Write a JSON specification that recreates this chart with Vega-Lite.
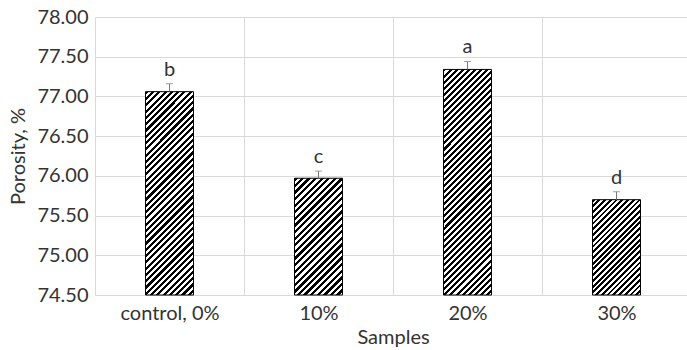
{
"$schema": "https://vega.github.io/schema/vega-lite/v6.json",
"width": 596, "height": 278,
"autosize": "none",
"padding": {"left": 95, "top": 17, "right": 0, "bottom": 55},
"background": "white",
"config": {"view": {"stroke": null}, "font": "Lato",
  "axis": {"labelFont": "Lato", "titleFont": "Lato", "labelColor": "#333", "titleColor": "#333", "labelFontSize": 20, "titleFontSize": 20, "titleFontWeight": "normal", "gridColor": "#d9d9d9", "gridWidth": 1, "domain": false, "ticks": false},
  "axisY": {"title": "Porosity, %", "values": [74.5, 75, 75.5, 76, 76.5, 77, 77.5, 78], "format": ".2f", "grid": true, "labelPadding": 7, "titlePadding": 8}},
"data": {"values": [
  {"Sample": "control, 0%", "Porosity": 77.06, "Upper": 77.16, "Letter": "b"},
  {"Sample": "10%", "Porosity": 75.97, "Upper": 76.06, "Letter": "c"},
  {"Sample": "20%", "Porosity": 77.34, "Upper": 77.44, "Letter": "a"},
  {"Sample": "30%", "Porosity": 75.70, "Upper": 75.80, "Letter": "d"}
]},
"encoding": {"x": {"field": "Sample", "type": "nominal", "sort": null, "scale": {"paddingInner": 0, "paddingOuter": 0},
  "axis": {"title": "Samples", "tickBand": "extent", "grid": true, "labelAngle": 0, "labelPadding": 8, "titlePadding": 4}}},
"layer": [
{"mark": {"type": "bar", "width": {"band": 0.322}, "stroke": "#000", "strokeWidth": 1},
 "encoding": {
  "y": {"field": "Porosity", "type": "quantitative", "scale": {"domain": [74.5, 78], "nice": false, "zero": false}, "axis": {"title": "Porosity, %"}},
  "y2": {"datum": 74.5},
  "fill": {"condition": [
   {"test": "datum.Sample === 'control, 0%'", "value": {"gradient": "linear", "x1": 0, "y1": 0, "x2": 0.2764, "y2": 1.1708, "stops": [
{"offset":0,"color":"#000"},
{"offset":0.0125,"color":"#000"},{"offset":0.0125,"color":"#fff"},{"offset":0.025,"color":"#fff"},{"offset":0.025,"color":"#000"},{"offset":0.0375,"color":"#000"},{"offset":0.0375,"color":"#fff"},{"offset":0.05,"color":"#fff"},{"offset":0.05,"color":"#000"},
{"offset":0.0625,"color":"#000"},{"offset":0.0625,"color":"#fff"},{"offset":0.075,"color":"#fff"},{"offset":0.075,"color":"#000"},{"offset":0.0875,"color":"#000"},{"offset":0.0875,"color":"#fff"},{"offset":0.1,"color":"#fff"},{"offset":0.1,"color":"#000"},
{"offset":0.1125,"color":"#000"},{"offset":0.1125,"color":"#fff"},{"offset":0.125,"color":"#fff"},{"offset":0.125,"color":"#000"},{"offset":0.1375,"color":"#000"},{"offset":0.1375,"color":"#fff"},{"offset":0.15,"color":"#fff"},{"offset":0.15,"color":"#000"},
{"offset":0.1625,"color":"#000"},{"offset":0.1625,"color":"#fff"},{"offset":0.175,"color":"#fff"},{"offset":0.175,"color":"#000"},{"offset":0.1875,"color":"#000"},{"offset":0.1875,"color":"#fff"},{"offset":0.2,"color":"#fff"},{"offset":0.2,"color":"#000"},
{"offset":0.2125,"color":"#000"},{"offset":0.2125,"color":"#fff"},{"offset":0.225,"color":"#fff"},{"offset":0.225,"color":"#000"},{"offset":0.2375,"color":"#000"},{"offset":0.2375,"color":"#fff"},{"offset":0.25,"color":"#fff"},{"offset":0.25,"color":"#000"},
{"offset":0.2625,"color":"#000"},{"offset":0.2625,"color":"#fff"},{"offset":0.275,"color":"#fff"},{"offset":0.275,"color":"#000"},{"offset":0.2875,"color":"#000"},{"offset":0.2875,"color":"#fff"},{"offset":0.3,"color":"#fff"},{"offset":0.3,"color":"#000"},
{"offset":0.3125,"color":"#000"},{"offset":0.3125,"color":"#fff"},{"offset":0.325,"color":"#fff"},{"offset":0.325,"color":"#000"},{"offset":0.3375,"color":"#000"},{"offset":0.3375,"color":"#fff"},{"offset":0.35,"color":"#fff"},{"offset":0.35,"color":"#000"},
{"offset":0.3625,"color":"#000"},{"offset":0.3625,"color":"#fff"},{"offset":0.375,"color":"#fff"},{"offset":0.375,"color":"#000"},{"offset":0.3875,"color":"#000"},{"offset":0.3875,"color":"#fff"},{"offset":0.4,"color":"#fff"},{"offset":0.4,"color":"#000"},
{"offset":0.4125,"color":"#000"},{"offset":0.4125,"color":"#fff"},{"offset":0.425,"color":"#fff"},{"offset":0.425,"color":"#000"},{"offset":0.4375,"color":"#000"},{"offset":0.4375,"color":"#fff"},{"offset":0.45,"color":"#fff"},{"offset":0.45,"color":"#000"},
{"offset":0.4625,"color":"#000"},{"offset":0.4625,"color":"#fff"},{"offset":0.475,"color":"#fff"},{"offset":0.475,"color":"#000"},{"offset":0.4875,"color":"#000"},{"offset":0.4875,"color":"#fff"},{"offset":0.5,"color":"#fff"},{"offset":0.5,"color":"#000"},
{"offset":0.5125,"color":"#000"},{"offset":0.5125,"color":"#fff"},{"offset":0.525,"color":"#fff"},{"offset":0.525,"color":"#000"},{"offset":0.5375,"color":"#000"},{"offset":0.5375,"color":"#fff"},{"offset":0.55,"color":"#fff"},{"offset":0.55,"color":"#000"},
{"offset":0.5625,"color":"#000"},{"offset":0.5625,"color":"#fff"},{"offset":0.575,"color":"#fff"},{"offset":0.575,"color":"#000"},{"offset":0.5875,"color":"#000"},{"offset":0.5875,"color":"#fff"},{"offset":0.6,"color":"#fff"},{"offset":0.6,"color":"#000"},
{"offset":0.6125,"color":"#000"},{"offset":0.6125,"color":"#fff"},{"offset":0.625,"color":"#fff"},{"offset":0.625,"color":"#000"},{"offset":0.6375,"color":"#000"},{"offset":0.6375,"color":"#fff"},{"offset":0.65,"color":"#fff"},{"offset":0.65,"color":"#000"},
{"offset":0.6625,"color":"#000"},{"offset":0.6625,"color":"#fff"},{"offset":0.675,"color":"#fff"},{"offset":0.675,"color":"#000"},{"offset":0.6875,"color":"#000"},{"offset":0.6875,"color":"#fff"},{"offset":0.7,"color":"#fff"},{"offset":0.7,"color":"#000"},
{"offset":0.7125,"color":"#000"},{"offset":0.7125,"color":"#fff"},{"offset":0.725,"color":"#fff"},{"offset":0.725,"color":"#000"},{"offset":0.7375,"color":"#000"},{"offset":0.7375,"color":"#fff"},{"offset":0.75,"color":"#fff"},{"offset":0.75,"color":"#000"},
{"offset":0.7625,"color":"#000"},{"offset":0.7625,"color":"#fff"},{"offset":0.775,"color":"#fff"},{"offset":0.775,"color":"#000"},{"offset":0.7875,"color":"#000"},{"offset":0.7875,"color":"#fff"},{"offset":0.8,"color":"#fff"},{"offset":0.8,"color":"#000"},
{"offset":0.8125,"color":"#000"},{"offset":0.8125,"color":"#fff"},{"offset":0.825,"color":"#fff"},{"offset":0.825,"color":"#000"},{"offset":0.8375,"color":"#000"},{"offset":0.8375,"color":"#fff"},{"offset":0.85,"color":"#fff"},{"offset":0.85,"color":"#000"},
{"offset":0.8625,"color":"#000"},{"offset":0.8625,"color":"#fff"},{"offset":0.875,"color":"#fff"},{"offset":0.875,"color":"#000"},{"offset":0.8875,"color":"#000"},{"offset":0.8875,"color":"#fff"},{"offset":0.9,"color":"#fff"},{"offset":0.9,"color":"#000"},
{"offset":0.9125,"color":"#000"},{"offset":0.9125,"color":"#fff"},{"offset":0.925,"color":"#fff"},{"offset":0.925,"color":"#000"},{"offset":0.9375,"color":"#000"},{"offset":0.9375,"color":"#fff"},{"offset":0.95,"color":"#fff"},{"offset":0.95,"color":"#000"},
{"offset":0.9625,"color":"#000"},{"offset":0.9625,"color":"#fff"},{"offset":0.975,"color":"#fff"},{"offset":0.975,"color":"#000"},{"offset":0.9875,"color":"#000"},{"offset":0.9875,"color":"#fff"},{"offset":1,"color":"#fff"}
   ]}},
   {"test": "datum.Sample === '10%'", "value": {"gradient": "linear", "x1": 0, "y1": 0, "x2": 0.4961, "y2": 1.2071, "stops": [
{"offset":0,"color":"#000"},
{"offset":0.02,"color":"#000"},{"offset":0.02,"color":"#fff"},{"offset":0.04,"color":"#fff"},{"offset":0.04,"color":"#000"},
{"offset":0.06,"color":"#000"},{"offset":0.06,"color":"#fff"},{"offset":0.08,"color":"#fff"},{"offset":0.08,"color":"#000"},
{"offset":0.1,"color":"#000"},{"offset":0.1,"color":"#fff"},{"offset":0.12,"color":"#fff"},{"offset":0.12,"color":"#000"},
{"offset":0.14,"color":"#000"},{"offset":0.14,"color":"#fff"},{"offset":0.16,"color":"#fff"},{"offset":0.16,"color":"#000"},
{"offset":0.18,"color":"#000"},{"offset":0.18,"color":"#fff"},{"offset":0.2,"color":"#fff"},{"offset":0.2,"color":"#000"},
{"offset":0.22,"color":"#000"},{"offset":0.22,"color":"#fff"},{"offset":0.24,"color":"#fff"},{"offset":0.24,"color":"#000"},
{"offset":0.26,"color":"#000"},{"offset":0.26,"color":"#fff"},{"offset":0.28,"color":"#fff"},{"offset":0.28,"color":"#000"},
{"offset":0.3,"color":"#000"},{"offset":0.3,"color":"#fff"},{"offset":0.32,"color":"#fff"},{"offset":0.32,"color":"#000"},
{"offset":0.34,"color":"#000"},{"offset":0.34,"color":"#fff"},{"offset":0.36,"color":"#fff"},{"offset":0.36,"color":"#000"},
{"offset":0.38,"color":"#000"},{"offset":0.38,"color":"#fff"},{"offset":0.4,"color":"#fff"},{"offset":0.4,"color":"#000"},
{"offset":0.42,"color":"#000"},{"offset":0.42,"color":"#fff"},{"offset":0.44,"color":"#fff"},{"offset":0.44,"color":"#000"},
{"offset":0.46,"color":"#000"},{"offset":0.46,"color":"#fff"},{"offset":0.48,"color":"#fff"},{"offset":0.48,"color":"#000"},
{"offset":0.5,"color":"#000"},{"offset":0.5,"color":"#fff"},{"offset":0.52,"color":"#fff"},{"offset":0.52,"color":"#000"},
{"offset":0.54,"color":"#000"},{"offset":0.54,"color":"#fff"},{"offset":0.56,"color":"#fff"},{"offset":0.56,"color":"#000"},
{"offset":0.58,"color":"#000"},{"offset":0.58,"color":"#fff"},{"offset":0.6,"color":"#fff"},{"offset":0.6,"color":"#000"},
{"offset":0.62,"color":"#000"},{"offset":0.62,"color":"#fff"},{"offset":0.64,"color":"#fff"},{"offset":0.64,"color":"#000"},
{"offset":0.66,"color":"#000"},{"offset":0.66,"color":"#fff"},{"offset":0.68,"color":"#fff"},{"offset":0.68,"color":"#000"},
{"offset":0.7,"color":"#000"},{"offset":0.7,"color":"#fff"},{"offset":0.72,"color":"#fff"},{"offset":0.72,"color":"#000"},
{"offset":0.74,"color":"#000"},{"offset":0.74,"color":"#fff"},{"offset":0.76,"color":"#fff"},{"offset":0.76,"color":"#000"},
{"offset":0.78,"color":"#000"},{"offset":0.78,"color":"#fff"},{"offset":0.8,"color":"#fff"},{"offset":0.8,"color":"#000"},
{"offset":0.82,"color":"#000"},{"offset":0.82,"color":"#fff"},{"offset":0.84,"color":"#fff"},{"offset":0.84,"color":"#000"},
{"offset":0.86,"color":"#000"},{"offset":0.86,"color":"#fff"},{"offset":0.88,"color":"#fff"},{"offset":0.88,"color":"#000"},
{"offset":0.9,"color":"#000"},{"offset":0.9,"color":"#fff"},{"offset":0.92,"color":"#fff"},{"offset":0.92,"color":"#000"},
{"offset":0.94,"color":"#000"},{"offset":0.94,"color":"#fff"},{"offset":0.96,"color":"#fff"},{"offset":0.96,"color":"#000"},
{"offset":0.98,"color":"#000"},{"offset":0.98,"color":"#fff"},{"offset":1,"color":"#fff"}
   ]}},
   {"test": "datum.Sample === '20%'", "value": {"gradient": "linear", "x1": 0, "y1": 0, "x2": 0.2469, "y2": 1.1602, "stops": [
{"offset":0,"color":"#000"},
{"offset":0.0111,"color":"#000"},{"offset":0.0111,"color":"#fff"},{"offset":0.0222,"color":"#fff"},{"offset":0.0222,"color":"#000"},
{"offset":0.0333,"color":"#000"},{"offset":0.0333,"color":"#fff"},{"offset":0.0444,"color":"#fff"},{"offset":0.0444,"color":"#000"},
{"offset":0.0556,"color":"#000"},{"offset":0.0556,"color":"#fff"},{"offset":0.0667,"color":"#fff"},{"offset":0.0667,"color":"#000"},
{"offset":0.0778,"color":"#000"},{"offset":0.0778,"color":"#fff"},{"offset":0.0889,"color":"#fff"},{"offset":0.0889,"color":"#000"},
{"offset":0.1,"color":"#000"},{"offset":0.1,"color":"#fff"},{"offset":0.1111,"color":"#fff"},{"offset":0.1111,"color":"#000"},
{"offset":0.1222,"color":"#000"},{"offset":0.1222,"color":"#fff"},{"offset":0.1333,"color":"#fff"},{"offset":0.1333,"color":"#000"},
{"offset":0.1444,"color":"#000"},{"offset":0.1444,"color":"#fff"},{"offset":0.1556,"color":"#fff"},{"offset":0.1556,"color":"#000"},
{"offset":0.1667,"color":"#000"},{"offset":0.1667,"color":"#fff"},{"offset":0.1778,"color":"#fff"},{"offset":0.1778,"color":"#000"},
{"offset":0.1889,"color":"#000"},{"offset":0.1889,"color":"#fff"},{"offset":0.2,"color":"#fff"},{"offset":0.2,"color":"#000"},
{"offset":0.2111,"color":"#000"},{"offset":0.2111,"color":"#fff"},{"offset":0.2222,"color":"#fff"},{"offset":0.2222,"color":"#000"},
{"offset":0.2333,"color":"#000"},{"offset":0.2333,"color":"#fff"},{"offset":0.2444,"color":"#fff"},{"offset":0.2444,"color":"#000"},
{"offset":0.2556,"color":"#000"},{"offset":0.2556,"color":"#fff"},{"offset":0.2667,"color":"#fff"},{"offset":0.2667,"color":"#000"},
{"offset":0.2778,"color":"#000"},{"offset":0.2778,"color":"#fff"},{"offset":0.2889,"color":"#fff"},{"offset":0.2889,"color":"#000"},
{"offset":0.3,"color":"#000"},{"offset":0.3,"color":"#fff"},{"offset":0.3111,"color":"#fff"},{"offset":0.3111,"color":"#000"},
{"offset":0.3222,"color":"#000"},{"offset":0.3222,"color":"#fff"},{"offset":0.3333,"color":"#fff"},{"offset":0.3333,"color":"#000"},
{"offset":0.3444,"color":"#000"},{"offset":0.3444,"color":"#fff"},{"offset":0.3556,"color":"#fff"},{"offset":0.3556,"color":"#000"},
{"offset":0.3667,"color":"#000"},{"offset":0.3667,"color":"#fff"},{"offset":0.3778,"color":"#fff"},{"offset":0.3778,"color":"#000"},
{"offset":0.3889,"color":"#000"},{"offset":0.3889,"color":"#fff"},{"offset":0.4,"color":"#fff"},{"offset":0.4,"color":"#000"},
{"offset":0.4111,"color":"#000"},{"offset":0.4111,"color":"#fff"},{"offset":0.4222,"color":"#fff"},{"offset":0.4222,"color":"#000"},
{"offset":0.4333,"color":"#000"},{"offset":0.4333,"color":"#fff"},{"offset":0.4444,"color":"#fff"},{"offset":0.4444,"color":"#000"},
{"offset":0.4556,"color":"#000"},{"offset":0.4556,"color":"#fff"},{"offset":0.4667,"color":"#fff"},{"offset":0.4667,"color":"#000"},
{"offset":0.4778,"color":"#000"},{"offset":0.4778,"color":"#fff"},{"offset":0.4889,"color":"#fff"},{"offset":0.4889,"color":"#000"},
{"offset":0.5,"color":"#000"},{"offset":0.5,"color":"#fff"},{"offset":0.5111,"color":"#fff"},{"offset":0.5111,"color":"#000"},
{"offset":0.5222,"color":"#000"},{"offset":0.5222,"color":"#fff"},{"offset":0.5333,"color":"#fff"},{"offset":0.5333,"color":"#000"},
{"offset":0.5444,"color":"#000"},{"offset":0.5444,"color":"#fff"},{"offset":0.5556,"color":"#fff"},{"offset":0.5556,"color":"#000"},
{"offset":0.5667,"color":"#000"},{"offset":0.5667,"color":"#fff"},{"offset":0.5778,"color":"#fff"},{"offset":0.5778,"color":"#000"},
{"offset":0.5889,"color":"#000"},{"offset":0.5889,"color":"#fff"},{"offset":0.6,"color":"#fff"},{"offset":0.6,"color":"#000"},
{"offset":0.6111,"color":"#000"},{"offset":0.6111,"color":"#fff"},{"offset":0.6222,"color":"#fff"},{"offset":0.6222,"color":"#000"},
{"offset":0.6333,"color":"#000"},{"offset":0.6333,"color":"#fff"},{"offset":0.6444,"color":"#fff"},{"offset":0.6444,"color":"#000"},
{"offset":0.6556,"color":"#000"},{"offset":0.6556,"color":"#fff"},{"offset":0.6667,"color":"#fff"},{"offset":0.6667,"color":"#000"},
{"offset":0.6778,"color":"#000"},{"offset":0.6778,"color":"#fff"},{"offset":0.6889,"color":"#fff"},{"offset":0.6889,"color":"#000"},
{"offset":0.7,"color":"#000"},{"offset":0.7,"color":"#fff"},{"offset":0.7111,"color":"#fff"},{"offset":0.7111,"color":"#000"},
{"offset":0.7222,"color":"#000"},{"offset":0.7222,"color":"#fff"},{"offset":0.7333,"color":"#fff"},{"offset":0.7333,"color":"#000"},
{"offset":0.7444,"color":"#000"},{"offset":0.7444,"color":"#fff"},{"offset":0.7556,"color":"#fff"},{"offset":0.7556,"color":"#000"},
{"offset":0.7667,"color":"#000"},{"offset":0.7667,"color":"#fff"},{"offset":0.7778,"color":"#fff"},{"offset":0.7778,"color":"#000"},
{"offset":0.7889,"color":"#000"},{"offset":0.7889,"color":"#fff"},{"offset":0.8,"color":"#fff"},{"offset":0.8,"color":"#000"},
{"offset":0.8111,"color":"#000"},{"offset":0.8111,"color":"#fff"},{"offset":0.8222,"color":"#fff"},{"offset":0.8222,"color":"#000"},
{"offset":0.8333,"color":"#000"},{"offset":0.8333,"color":"#fff"},{"offset":0.8444,"color":"#fff"},{"offset":0.8444,"color":"#000"},
{"offset":0.8556,"color":"#000"},{"offset":0.8556,"color":"#fff"},{"offset":0.8667,"color":"#fff"},{"offset":0.8667,"color":"#000"},
{"offset":0.8778,"color":"#000"},{"offset":0.8778,"color":"#fff"},{"offset":0.8889,"color":"#fff"},{"offset":0.8889,"color":"#000"},
{"offset":0.9,"color":"#000"},{"offset":0.9,"color":"#fff"},{"offset":0.9111,"color":"#fff"},{"offset":0.9111,"color":"#000"},
{"offset":0.9222,"color":"#000"},{"offset":0.9222,"color":"#fff"},{"offset":0.9333,"color":"#fff"},{"offset":0.9333,"color":"#000"},
{"offset":0.9444,"color":"#000"},{"offset":0.9444,"color":"#fff"},{"offset":0.9556,"color":"#fff"},{"offset":0.9556,"color":"#000"},
{"offset":0.9667,"color":"#000"},{"offset":0.9667,"color":"#fff"},{"offset":0.9778,"color":"#fff"},{"offset":0.9778,"color":"#000"},
{"offset":0.9889,"color":"#000"},{"offset":0.9889,"color":"#fff"},{"offset":1,"color":"#fff"}
   ]}}
  ],
  "value": {"gradient": "linear", "x1": 0, "y1": 0, "x2": 0.6041, "y2": 1.1994, "stops": [
{"offset":0,"color":"#000"},
{"offset":0.02,"color":"#000"},{"offset":0.02,"color":"#fff"},{"offset":0.04,"color":"#fff"},{"offset":0.04,"color":"#000"},
{"offset":0.06,"color":"#000"},{"offset":0.06,"color":"#fff"},{"offset":0.08,"color":"#fff"},{"offset":0.08,"color":"#000"},
{"offset":0.1,"color":"#000"},{"offset":0.1,"color":"#fff"},{"offset":0.12,"color":"#fff"},{"offset":0.12,"color":"#000"},
{"offset":0.14,"color":"#000"},{"offset":0.14,"color":"#fff"},{"offset":0.16,"color":"#fff"},{"offset":0.16,"color":"#000"},
{"offset":0.18,"color":"#000"},{"offset":0.18,"color":"#fff"},{"offset":0.2,"color":"#fff"},{"offset":0.2,"color":"#000"},
{"offset":0.22,"color":"#000"},{"offset":0.22,"color":"#fff"},{"offset":0.24,"color":"#fff"},{"offset":0.24,"color":"#000"},
{"offset":0.26,"color":"#000"},{"offset":0.26,"color":"#fff"},{"offset":0.28,"color":"#fff"},{"offset":0.28,"color":"#000"},
{"offset":0.3,"color":"#000"},{"offset":0.3,"color":"#fff"},{"offset":0.32,"color":"#fff"},{"offset":0.32,"color":"#000"},
{"offset":0.34,"color":"#000"},{"offset":0.34,"color":"#fff"},{"offset":0.36,"color":"#fff"},{"offset":0.36,"color":"#000"},
{"offset":0.38,"color":"#000"},{"offset":0.38,"color":"#fff"},{"offset":0.4,"color":"#fff"},{"offset":0.4,"color":"#000"},
{"offset":0.42,"color":"#000"},{"offset":0.42,"color":"#fff"},{"offset":0.44,"color":"#fff"},{"offset":0.44,"color":"#000"},
{"offset":0.46,"color":"#000"},{"offset":0.46,"color":"#fff"},{"offset":0.48,"color":"#fff"},{"offset":0.48,"color":"#000"},
{"offset":0.5,"color":"#000"},{"offset":0.5,"color":"#fff"},{"offset":0.52,"color":"#fff"},{"offset":0.52,"color":"#000"},
{"offset":0.54,"color":"#000"},{"offset":0.54,"color":"#fff"},{"offset":0.56,"color":"#fff"},{"offset":0.56,"color":"#000"},
{"offset":0.58,"color":"#000"},{"offset":0.58,"color":"#fff"},{"offset":0.6,"color":"#fff"},{"offset":0.6,"color":"#000"},
{"offset":0.62,"color":"#000"},{"offset":0.62,"color":"#fff"},{"offset":0.64,"color":"#fff"},{"offset":0.64,"color":"#000"},
{"offset":0.66,"color":"#000"},{"offset":0.66,"color":"#fff"},{"offset":0.68,"color":"#fff"},{"offset":0.68,"color":"#000"},
{"offset":0.7,"color":"#000"},{"offset":0.7,"color":"#fff"},{"offset":0.72,"color":"#fff"},{"offset":0.72,"color":"#000"},
{"offset":0.74,"color":"#000"},{"offset":0.74,"color":"#fff"},{"offset":0.76,"color":"#fff"},{"offset":0.76,"color":"#000"},
{"offset":0.78,"color":"#000"},{"offset":0.78,"color":"#fff"},{"offset":0.8,"color":"#fff"},{"offset":0.8,"color":"#000"},
{"offset":0.82,"color":"#000"},{"offset":0.82,"color":"#fff"},{"offset":0.84,"color":"#fff"},{"offset":0.84,"color":"#000"},
{"offset":0.86,"color":"#000"},{"offset":0.86,"color":"#fff"},{"offset":0.88,"color":"#fff"},{"offset":0.88,"color":"#000"},
{"offset":0.9,"color":"#000"},{"offset":0.9,"color":"#fff"},{"offset":0.92,"color":"#fff"},{"offset":0.92,"color":"#000"},
{"offset":0.94,"color":"#000"},{"offset":0.94,"color":"#fff"},{"offset":0.96,"color":"#fff"},{"offset":0.96,"color":"#000"},
{"offset":0.98,"color":"#000"},{"offset":0.98,"color":"#fff"},{"offset":1,"color":"#fff"}
  ]}}
 }},
{"mark": {"type": "rule", "color": "#7a7a7a", "strokeWidth": 1},
 "encoding": {
  "y": {"field": "Porosity", "type": "quantitative", "scale": {"domain": [74.5, 78], "nice": false, "zero": false}, "axis": {"title": "Porosity, %"}},
  "y2": {"field": "Upper"}}},
{"mark": {"type": "tick", "color": "#7a7a7a", "orient": "horizontal", "size": 7, "thickness": 1},
 "encoding": {
  "y": {"field": "Upper", "type": "quantitative", "scale": {"domain": [74.5, 78], "nice": false, "zero": false}, "axis": {"title": "Porosity, %"}}}},
{"mark": {"type": "text", "font": "Lato", "fontSize": 20, "color": "#333", "baseline": "alphabetic", "dy": -8},
 "encoding": {
  "y": {"field": "Upper", "type": "quantitative", "scale": {"domain": [74.5, 78], "nice": false, "zero": false}, "axis": {"title": "Porosity, %"}},
  "text": {"field": "Letter"}}}
]
}
